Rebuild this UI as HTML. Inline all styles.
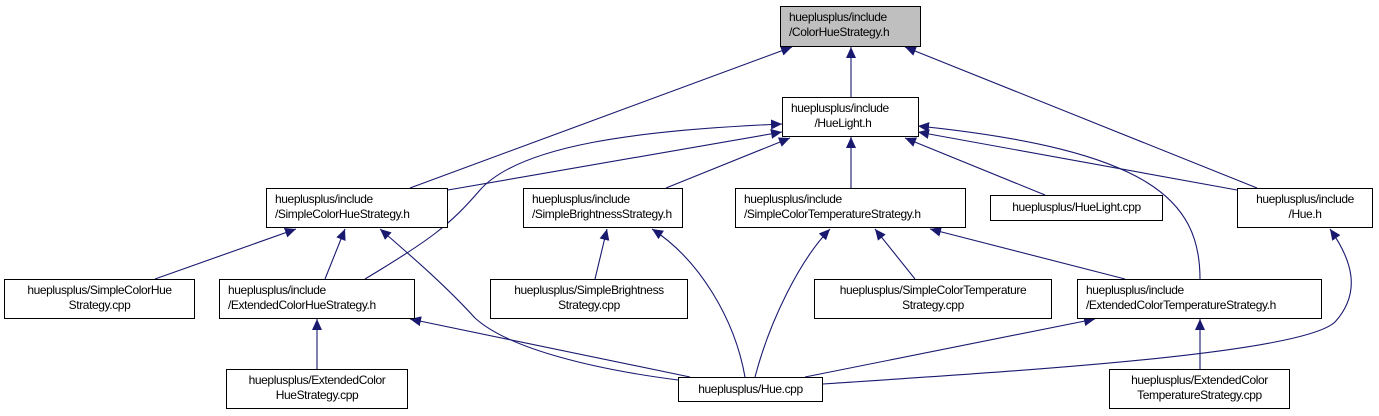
<!DOCTYPE html>
<html><head><meta charset="utf-8"><style>
body{margin:0;background:#fff;width:1379px;height:416px;overflow:hidden;position:relative;font-family:"Liberation Sans",sans-serif;}
.n{position:absolute;box-sizing:border-box;border:1px solid #000;background:#fff;font-size:12px;line-height:15px;color:#000;padding:3px 0 0 8px;white-space:nowrap;letter-spacing:-0.4px}
.c{text-align:center;padding-left:0}
svg{position:absolute;left:0;top:0}
</style></head><body>
<svg width="1379" height="416">
<defs><marker id="a" markerUnits="userSpaceOnUse" markerWidth="12" markerHeight="10" refX="11" refY="5" orient="auto"><path d="M0,0 L11,5 L0,10 z" fill="#191970"/></marker></defs>
<g stroke="#191970" stroke-width="1.1" fill="none" marker-end="url(#a)">
<path d="M410,188 L792,47"/>
<path d="M851,97 L851,47"/>
<path d="M1257,188 L905,47"/>
<path d="M448,190 L782,132"/>
<path d="M365,279 C430,240 450,225 480,190 C520,145 640,130 782,124"/>
<path d="M666,188 L790,138"/>
<path d="M851,188 L851,137"/>
<path d="M1045,195 L905,138"/>
<path d="M1237,190 L918,132"/>
<path d="M1200,279 C1200,200 1150,150 918,126"/>
<path d="M155,279 L296,229"/>
<path d="M325,279 L345,229"/>
<path d="M678,380 C600,370 510,350 475,318 C445,285 410,255 380,229"/>
<path d="M595,279 L607,229"/>
<path d="M745,377 C735,320 700,260 652,229"/>
<path d="M755,377 C770,320 800,260 830,229"/>
<path d="M915,279 L875,229"/>
<path d="M1125,279 L930,229"/>
<path d="M317,369 L317,319"/>
<path d="M690,377 L410,319"/>
<path d="M805,377 L1095,319"/>
<path d="M1200,369 L1200,319"/>
<path d="M823,384 C1000,372 1300,355 1335,322 C1362,292 1352,260 1330,229"/>
</g></svg>
<div class="n" style="left:780px;top:6px;width:141px;height:41px;background:#bfbfbf">hueplusplus/include<br>/ColorHueStrategy.h</div>
<div class="n" style="left:782px;top:97px;width:137px;height:40px">hueplusplus/include<br>&nbsp;&nbsp;&nbsp;&nbsp;&nbsp;&nbsp;&nbsp;&nbsp;/HueLight.h</div>
<div class="n" style="left:266px;top:188px;width:182px;height:40px">hueplusplus/include<br>/SimpleColorHueStrategy.h</div>
<div class="n" style="left:523px;top:188px;width:160px;height:40px">hueplusplus/include<br>/SimpleBrightnessStrategy.h</div>
<div class="n" style="left:735px;top:188px;width:231px;height:40px">hueplusplus/include<br>/SimpleColorTemperatureStrategy.h</div>
<div class="n c" style="left:990px;top:195px;width:173px;height:26px;padding-top:4px">hueplusplus/HueLight.cpp</div>
<div class="n c" style="left:1237px;top:188px;width:136px;height:40px">hueplusplus/include<br>/Hue.h</div>
<div class="n c" style="left:4px;top:279px;width:191px;height:40px">hueplusplus/SimpleColorHue<br>Strategy.cpp</div>
<div class="n" style="left:219px;top:279px;width:196px;height:40px">hueplusplus/include<br>/ExtendedColorHueStrategy.h</div>
<div class="n c" style="left:490px;top:279px;width:198px;height:40px">hueplusplus/SimpleBrightness<br>Strategy.cpp</div>
<div class="n c" style="left:814px;top:279px;width:238px;height:40px">hueplusplus/SimpleColorTemperature<br>Strategy.cpp</div>
<div class="n" style="left:1077px;top:279px;width:245px;height:40px">hueplusplus/include<br>/ExtendedColorTemperatureStrategy.h</div>
<div class="n c" style="left:226px;top:369px;width:182px;height:40px">hueplusplus/ExtendedColor<br>HueStrategy.cpp</div>
<div class="n c" style="left:678px;top:377px;width:145px;height:25px;padding-top:4px">hueplusplus/Hue.cpp</div>
<div class="n c" style="left:1109px;top:369px;width:181px;height:40px">hueplusplus/ExtendedColor<br>TemperatureStrategy.cpp</div>
</body></html>
